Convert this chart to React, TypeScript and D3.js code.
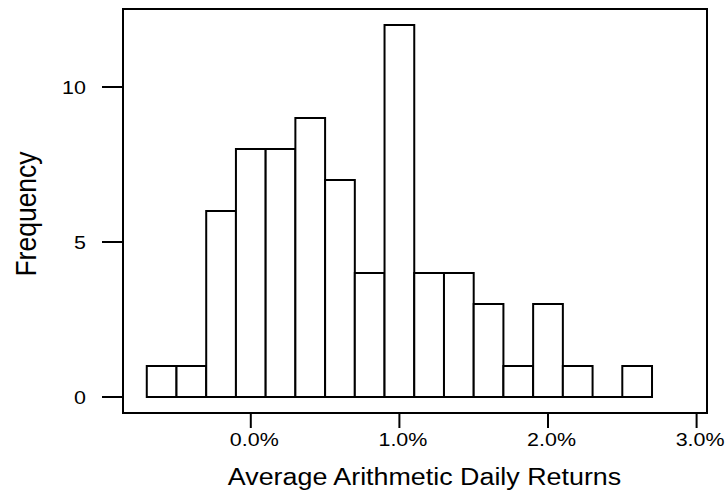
import React from "react";
import * as d3 from "d3";

// Histogram of average arithmetic daily returns (percent)
const binLower: number[] = [-0.7, -0.5, -0.3, -0.1, 0.1, 0.3, 0.5, 0.7, 0.9, 1.1, 1.3, 1.5, 1.7, 1.9, 2.1, 2.3, 2.5];
const binWidth = 0.2;
const frequency: number[] = [1, 1, 6, 8, 8, 9, 7, 4, 12, 4, 4, 3, 1, 3, 1, 0, 1];
const xTicks: number[] = [0, 1, 2, 3];
const xTickLabels: string[] = ["0.0%", "1.0%", "2.0%", "3.0%"];
const yTicks: number[] = [0, 5, 10];

const W = 727;
const H = 493;
const frame = { left: 123, right: 707, top: 9, bottom: 413 };
const FONT = "'Liberation Sans', Arial, Helvetica, sans-serif";
const SX = 1.13; // slight horizontal widening of the lettering

export default function App() {
  const x = d3.scaleLinear().domain([-0.86, 3.07]).range([frame.left, frame.right]);
  const y = d3.scaleLinear().domain([-0.516, 12.516]).range([frame.bottom, frame.top]);

  const bars = binLower.map((lo, i) => {
    const x0 = x(lo);
    const x1 = x(lo + binWidth);
    const y0 = y(0);
    const y1 = y(frequency[i]);
    const p = d3.path();
    p.moveTo(x0, y0);
    p.lineTo(x0, y1);
    p.lineTo(x1, y1);
    p.lineTo(x1, y0);
    p.closePath();
    return p.toString();
  });

  return (
    <svg
      width={W}
      height={H}
      style={{ position: "absolute", left: 0, top: 0, background: "#fff" }}
      fontFamily={FONT}
    >
      <rect x={0} y={0} width={W} height={H} fill="#fff" />
      {/* bars */}
      {bars.map((d, i) => (
        <path key={i} d={d} fill="#fff" stroke="#000" strokeWidth={2} strokeLinejoin="miter" />
      ))}
      {/* frame */}
      <rect
        x={frame.left}
        y={frame.top}
        width={frame.right - frame.left}
        height={frame.bottom - frame.top}
        fill="none"
        stroke="#000"
        strokeWidth={2}
      />
      {/* y axis */}
      {yTicks.map((t) => (
        <g key={"y" + t}>
          <line x1={frame.left - 21} x2={frame.left} y1={y(t)} y2={y(t)} stroke="#000" strokeWidth={2} />
          <g transform={`translate(${frame.left - 37},${y(t) + 6.8}) scale(${SX},1)`}>
            <text x={0} y={0} textAnchor="end" fontSize={19} fill="#000">
              {t}
            </text>
          </g>
        </g>
      ))}
      {/* x axis */}
      {xTicks.map((t, i) => (
        <g key={"x" + t}>
          <line x1={x(t)} x2={x(t)} y1={frame.bottom} y2={frame.bottom + 15} stroke="#000" strokeWidth={2} />
          <g transform={`translate(${x(t) + 3.5},${446}) scale(${SX},1)`}>
            <text x={0} y={0} textAnchor="middle" fontSize={19} fill="#000">
              {xTickLabels[i]}
            </text>
          </g>
        </g>
      ))}
      {/* axis titles */}
      <g transform={`translate(424.5,485) scale(1.11,1)`}>
        <text x={0} y={0} textAnchor="middle" fontSize={24.2} fill="#000">
          Average Arithmetic Daily Returns
        </text>
      </g>
      <g transform={`translate(36,214) scale(${SX},1) rotate(-90)`}>
        <text x={0} y={0} textAnchor="middle" fontSize={26.5} fill="#000">
          Frequency
        </text>
      </g>
    </svg>
  );
}
